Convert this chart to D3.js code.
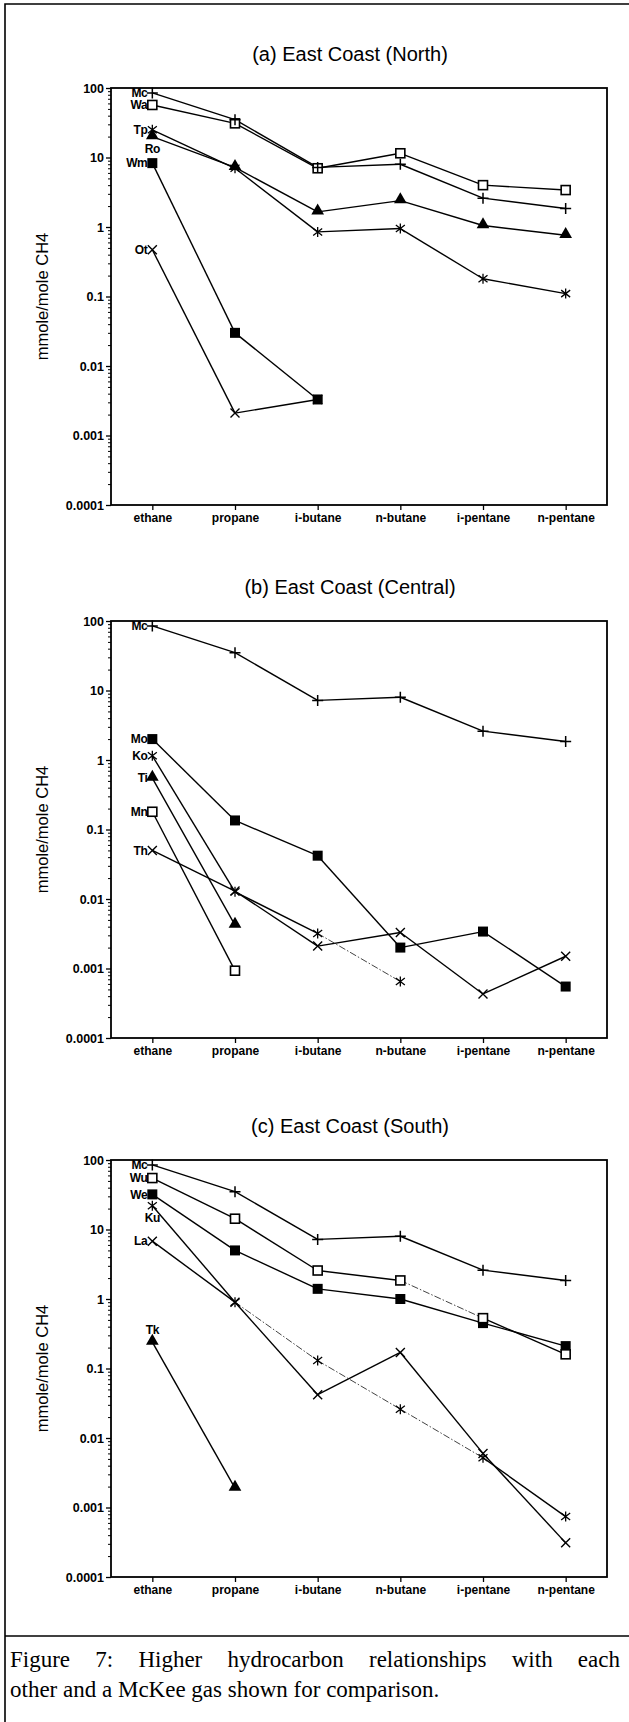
<!DOCTYPE html>
<html><head><meta charset="utf-8">
<script src="https://cdn.jsdelivr.net/npm/d3@7"></script>
<style>body{margin:0;background:#fff}svg{display:block}</style>
</head><body>
<svg id="c" width="629" height="1722"></svg>
<script>
// ---------------- data ----------------
const categories = ["ethane","propane","i-butane","n-butane","i-pentane","n-pentane"];
const yTickValues = [100,10,1,0.1,0.01,0.001,0.0001];
const yTickLabels = ["100","10","1","0.1","0.01","0.001","0.0001"];
const panelTitles = ["(a)  East Coast (North)","(b)  East Coast (Central)","(c)  East Coast (South)"];
const yAxisTitle = "mmole/mole CH4";
const captionLines = ["Figure 7: Higher hydrocarbon relationships with each","other and a McKee gas shown for comparison."];

// McKee gas (shown in every panel)
const mcValues = [85, 35, 7.2, 8, 2.6, 1.85];
// (a) East Coast (North)
const otValues = [0.47, 0.0021, 0.0033, null, null, null];
const wmValues = [8.3, 0.03, 0.0033, null, null, null];
const tpValues = [25, 7, 0.85, 0.95, 0.18, 0.11];
const roValues = [20, 7.2, 1.65, 2.4, 1.05, 0.76];
const waValues = [57, 31, 7, 11.5, 4.0, 3.4];
// (b) East Coast (Central)
const thValues = [0.05, 0.013, 0.0021, 0.0033, 0.00043, 0.0015];
const mnValues = [0.18, 0.00093, null, null, null, null];
const tiValues = [0.55, 0.0042, null, null, null, null];
const koValues = [1.15, 0.0127, 0.0032, 0.00065, null, null];
const moValues = [2.0, 0.135, 0.042, 0.002, 0.0034, 0.00055];
// (c) East Coast (South)
const tkValues = [0.24, 0.0019, null, null, null, null];
const laValues = [6.8, 0.9, 0.042, 0.17, 0.006, 0.00031];
const kuValues = [22, 0.9, 0.13, 0.026, 0.0052, 0.00074];
const weValues = [32, 5.0, 1.4, 1.0, 0.45, 0.21];
const wuValues = [55, 14.3, 2.57, 1.85, 0.53, 0.16];

const panels = [
  [ {name:"Ot", sym:"x", values:otValues},
    {name:"Wm", sym:"fsq", values:wmValues},
    {name:"Tp", sym:"ast", values:tpValues},
    {name:"Ro", sym:"tri", values:roValues},
    {name:"Wa", sym:"osq", values:waValues},
    {name:"Mc", sym:"plus", values:mcValues} ],
  [ {name:"Th", sym:"x", values:thValues},
    {name:"Mn", sym:"osq", values:mnValues},
    {name:"Ti", sym:"tri", values:tiValues},
    {name:"Ko", sym:"ast", values:koValues},
    {name:"Mo", sym:"fsq", values:moValues},
    {name:"Mc", sym:"plus", values:mcValues} ],
  [ {name:"Tk", sym:"tri", values:tkValues},
    {name:"La", sym:"x", values:laValues},
    {name:"Ku", sym:"ast", values:kuValues},
    {name:"We", sym:"fsq", values:weValues},
    {name:"Wu", sym:"osq", values:wuValues},
    {name:"Mc", sym:"plus", values:mcValues} ]
];

// ---------------- style / layout ----------------
const labelPlace = {"0:Ro":"below","2:Ku":"below","2:Tk":"above"};
const faintSegs = {"1:Ko":[2],"2:Ku":[1,2,3],"2:Wu":[3]};
const W = 629, H = 1722;
const frameL = 111, frameR = 607, panelTops = [88, 621, 1160], panelH = 417;
const sans = "'Liberation Sans', Arial, Helvetica, sans-serif";

const svg = d3.select("#c");
svg.append("rect").attr("width", W).attr("height", H).attr("fill", "#fff");
// outer box and caption separator
svg.append("path").attr("d", `M5,${H}V4H${W}`).attr("fill","none").attr("stroke","#000").attr("stroke-width",1.6);
svg.append("line").attr("x1",5).attr("x2",W).attr("y1",1636).attr("y2",1636).attr("stroke","#000").attr("stroke-width",1.6);

const x = d3.scalePoint().domain(categories).range([frameL, frameR]).padding(0.5);

function marker(g, sym, cx, cy) {
  const s = g.append("g").attr("transform", `translate(${cx},${cy})`);
  const st = (p, w) => p.attr("fill","none").attr("stroke","#000").attr("stroke-width", w);
  if (sym === "plus") st(s.append("path").attr("d","M-5.5,0H5.5M0,-5.5V5.5"), 1.5);
  else if (sym === "x") st(s.append("path").attr("d","M-4.5,-4.5L4.5,4.5M-4.5,4.5L4.5,-4.5"), 1.4);
  else if (sym === "ast") st(s.append("path").attr("d","M-4.5,-3.5L4.5,3.5M-4.5,3.5L4.5,-3.5M0,-5V5"), 1.3);
  else if (sym === "osq") s.append("rect").attr("x",-4.5).attr("y",-4.5).attr("width",9).attr("height",9)
      .attr("fill","#fff").attr("stroke","#000").attr("stroke-width",1.6);
  else if (sym === "fsq") s.append("rect").attr("x",-5).attr("y",-5).attr("width",10).attr("height",10).attr("fill","#000");
  else if (sym === "tri") s.append("path").attr("d", d3.symbol(d3.symbolTriangle, 70)()).attr("transform","translate(0,-1)").attr("fill","#000");
}

panels.forEach((series, pi) => {
  const top = panelTops[pi], bottom = top + panelH;
  const y = d3.scaleLog().domain([0.0001, 100]).range([bottom, top]);
  const g = svg.append("g");

  // title
  g.append("text").attr("x", 350).attr("y", top - 27).attr("text-anchor","middle")
    .attr("font-family", sans).attr("font-size", 20).text(panelTitles[pi]);
  // y axis title
  g.append("text").attr("transform", `translate(48,${(top+bottom)/2}) rotate(-90)`)
    .attr("text-anchor","middle").attr("font-family", sans).attr("font-size", 16.5).text(yAxisTitle);

  // minor ticks
  const minor = [];
  for (let e = -4; e < 2; e++) for (let m = 2; m <= 9; m++) minor.push(m * Math.pow(10, e));
  const minorAx = g.append("g").attr("transform", `translate(${frameL},0)`)
    .call(d3.axisLeft(y).tickValues(minor).tickSize(3).tickFormat(""));
  minorAx.select(".domain").remove();
  minorAx.selectAll("line").attr("stroke-width", 1);
  // major y ticks
  const yAx = g.append("g").attr("transform", `translate(${frameL},0)`)
    .call(d3.axisLeft(y).tickValues(yTickValues).tickSize(5).tickPadding(2)
      .tickFormat((d, i) => yTickLabels[i]));
  yAx.select(".domain").remove();
  yAx.selectAll("line").attr("stroke-width", 1.3);
  yAx.selectAll("text").attr("font-family", sans).attr("font-size", 12.5).attr("font-weight", "bold").attr("fill","#000");
  // x axis
  const xAx = g.append("g").attr("transform", `translate(0,${bottom})`)
    .call(d3.axisBottom(x).tickSize(5).tickPadding(3));
  xAx.select(".domain").remove();
  xAx.selectAll("line").attr("stroke-width", 1.3);
  xAx.selectAll("text").attr("font-family", sans).attr("font-size", 12).attr("font-weight", "bold").attr("fill","#000");

  // frame
  g.append("rect").attr("x", frameL).attr("y", top).attr("width", frameR - frameL).attr("height", panelH)
    .attr("fill","none").attr("stroke","#000").attr("stroke-width", 1.8);

  // lines
  series.forEach(s => {
    const faint = faintSegs[pi + ":" + s.name] || [];
    for (let i = 0; i < s.values.length - 1; i++) {
      const a = s.values[i], b = s.values[i + 1];
      if (a == null || b == null) continue;
      const isFaint = faint.includes(i);
      g.append("line")
        .attr("x1", x(categories[i])).attr("y1", y(a))
        .attr("x2", x(categories[i + 1])).attr("y2", y(b))
        .attr("stroke", isFaint ? "#444" : "#000")
        .attr("stroke-width", isFaint ? 1 : 1.4)
        .attr("stroke-dasharray", isFaint ? "7,2,1.5,2" : null);
    }
  });
  // markers + labels
  series.forEach(s => {
    s.values.forEach((v, i) => { if (v != null) marker(g, s.sym, x(categories[i]), y(v)); });
    const cx = x(categories[0]), cy = y(s.values[0]);
    const place = labelPlace[pi + ":" + s.name] || "left";
    const t = g.append("text").attr("font-family", sans).attr("font-size", 12).attr("font-weight", "bold")
      .attr("letter-spacing", -0.4).text(s.name);
    if (place === "left") t.attr("x", cx - 5).attr("y", cy).attr("dy", "0.36em").attr("text-anchor", "end");
    else if (place === "below") t.attr("x", cx).attr("y", cy + 12).attr("dy", "0.36em").attr("text-anchor", "middle");
    else t.attr("x", cx).attr("y", cy - 12).attr("dy", "0.36em").attr("text-anchor", "middle");
  });
});

// caption
const cap = svg.append("g").attr("font-family", "'Liberation Serif', 'Times New Roman', serif").attr("font-size", 23);
const l1 = cap.append("text").attr("x", 10).attr("y", 1667).text(captionLines[0]);
const natural = l1.node().getComputedTextLength();
const gaps = captionLines[0].split(" ").length - 1;
l1.attr("word-spacing", (610 - natural) / gaps);
cap.append("text").attr("x", 10).attr("y", 1697).text(captionLines[1]);
</script>
</body></html>
